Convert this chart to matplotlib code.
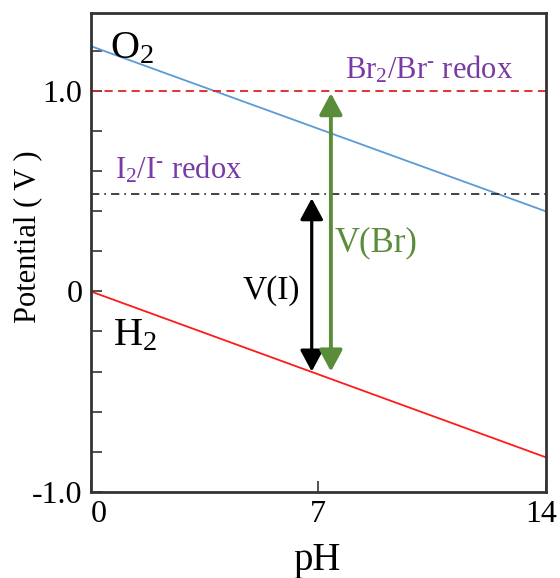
import numpy as np
import matplotlib
matplotlib.use('Agg')
import matplotlib.pyplot as plt

plt.rcParams['font.family'] = ['Liberation Serif', 'DejaVu Serif']
plt.rcParams['mathtext.fontset'] = 'custom'
plt.rcParams['mathtext.rm'] = 'Liberation Serif'
plt.rcParams['mathtext.it'] = 'Liberation Serif:italic'
plt.rcParams['mathtext.default'] = 'rm'

# pH range and water stability lines
ph = [0, 14]
o2_line = [1.225, 0.40]
h2_line = [0.0, -0.828]

# redox levels
br_level = 1.0
i_level = 0.485

# voltage arrows: (pH, bottom, top)
v_i_arrow = (6.8, -0.40, 0.465)
v_br_arrow = (7.39, -0.40, 0.99)

x_ticks = [0, 7, 14]
x_tick_labels = ['0', '7', '14']
y_ticks = [-1.0, -0.8, -0.6, -0.4, -0.2, 0.0, 0.2, 0.4, 0.6, 0.8, 1.0, 1.2]
y_tick_labels = ['-1.0', '', '', '', '', '0', '', '', '', '', '1.0', '']

blue = '#5b9bd5'
red = '#ff1a1a'
purple = '#7a3aa6'
green = '#5b8c3a'

fig = plt.figure(figsize=(5.6, 5.78), dpi=100)
ax = fig.add_axes([0.162, 0.1493, 0.8125, 0.8282])

ax.plot(ph, o2_line, color=blue, lw=1.3)
ax.plot(ph, h2_line, color=red, lw=1.3)
ax.axhline(br_level, color='#dd2222', lw=1.3, linestyle=(0, (4.5, 3)))
ax.axhline(i_level, color='#222222', lw=1.2, linestyle=(0, (5, 3, 1, 3)))

ax.annotate('', xy=(v_i_arrow[0], v_i_arrow[2]), xytext=(v_i_arrow[0], v_i_arrow[1]),
            arrowprops=dict(arrowstyle='<|-|>,head_length=13,head_width=7', mutation_scale=1,
                            color='black', lw=2.3, shrinkA=0, shrinkB=0))
ax.annotate('', xy=(v_br_arrow[0], v_br_arrow[2]), xytext=(v_br_arrow[0], v_br_arrow[1]),
            arrowprops=dict(arrowstyle='<|-|>,head_length=13,head_width=7', mutation_scale=1,
                            color=green, lw=2.8, shrinkA=0, shrinkB=0))

ax.text(0.59, 1.163, 'O$_2$', fontsize=29, ha='left', va='baseline')
ax.text(0.69, -0.267, 'H$_2$', fontsize=29, ha='left', va='baseline')
ax.text(7.83, 1.063, r'Br$_2$/Br$^{\text{-}}$ redox', fontsize=22, color=purple, ha='left', va='baseline')
ax.text(0.75, 0.563, r'I$_2$/I$^{\text{-}}$ redox', fontsize=22, color=purple, ha='left', va='baseline')
ax.text(4.66, -0.037, 'V(I)', fontsize=24, ha='left', va='baseline')
ax.text(7.52, 0.20, 'V(Br)', fontsize=25, color=green, ha='left', va='baseline')

ax.set_xlim(0, 14)
ax.set_ylim(-1.0, 1.39)
ax.set_xticks(x_ticks)
ax.set_xticklabels(x_tick_labels[:-1] + [''])
ax.set_yticks(y_ticks)
ax.set_yticklabels(y_tick_labels)
ax.get_xticklabels()[0].set_horizontalalignment('left')
ax.tick_params(direction='in', length=8, width=1.2, color='#333333', labelsize=23, pad=6)
# last x label nudged left so it stays inside the figure
ax.annotate(x_tick_labels[-1], xy=(x_ticks[-1], 0), xycoords=('data', 'axes fraction'),
            xytext=(-3, -6), textcoords='offset points', ha='center', va='top', fontsize=23)

for s in ax.spines.values():
    s.set_linewidth(2.0)
    s.set_color('#333333')

ax.set_xlabel('pH', fontsize=28)
ax.xaxis.set_label_coords(0.497, -0.105)
ax.set_ylabel('Potential ( V )', fontsize=22)
ax.yaxis.set_label_coords(-0.106, 0.533)

fig.savefig('out.png', dpi=100)
